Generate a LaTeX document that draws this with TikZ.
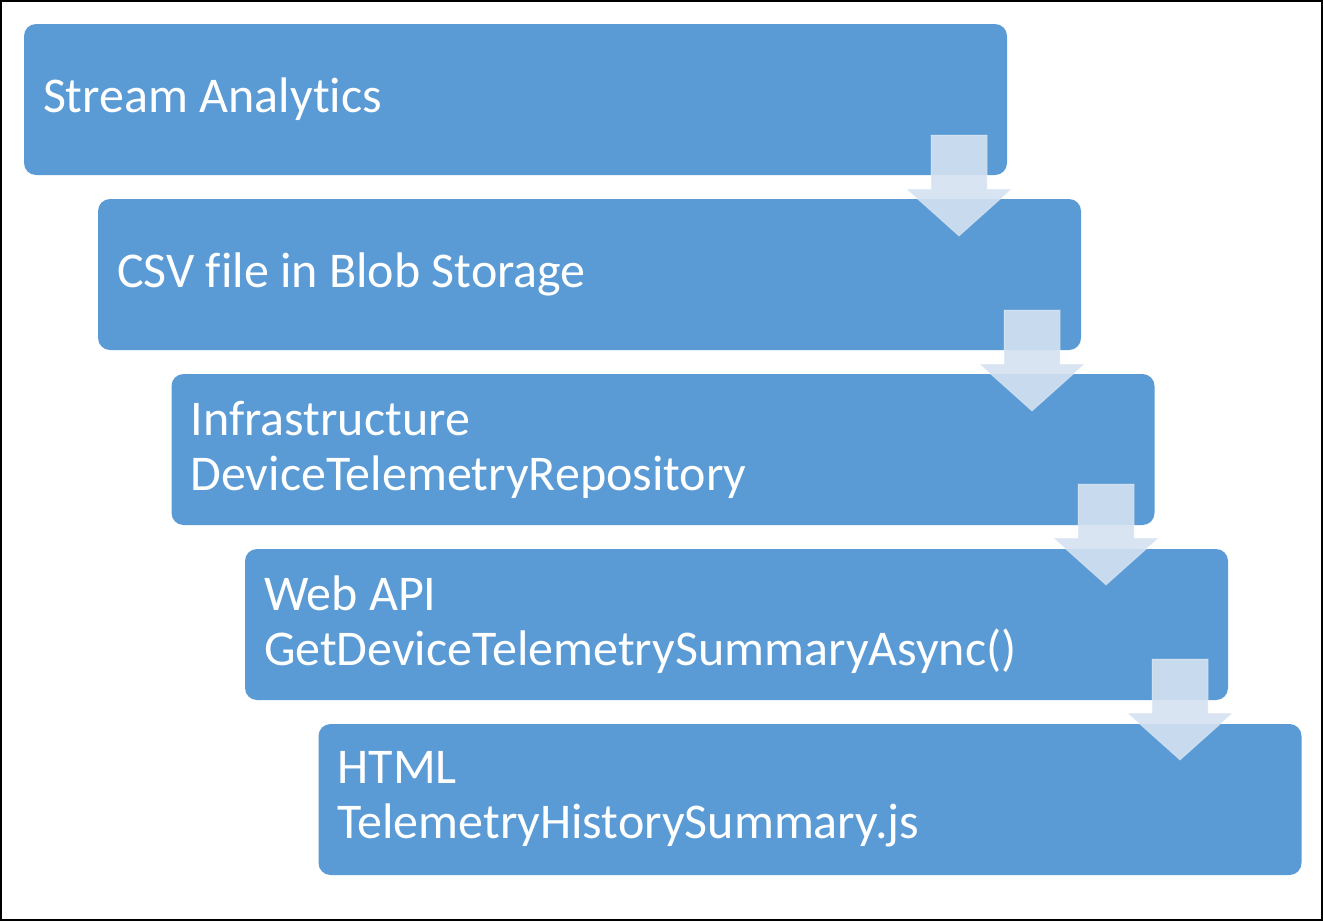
\documentclass[tikz,border=0pt]{standalone}
\usepackage{fontspec}
\setmainfont[Ligatures=NoCommon]{Carlito}
\usetikzlibrary{calc}
\definecolor{stepblue}{RGB}{91,155,213}
\definecolor{arrowtint}{RGB}{212,225,240}
\begin{document}
\begin{tikzpicture}[x=0.75pt,y=-0.75pt]
	\tikzstyle{stage} = [rectangle,rounded corners=9pt,fill=stepblue,text=white,
		minimum height=113.25pt,text width=708.75pt,inner xsep=14.25pt,align=flush left,
		font=\fontsize{37.5}{41.25}\selectfont]
	\tikzstyle{flow} = [fill=arrowtint,fill opacity=0.9,draw=white,draw opacity=0.3,line width=0.75pt,
		to path={let \p1=(\tikztostart), \p2=(\tikztotarget) in
			(\x1-21pt,\y1) -- (\x1+21pt,\y1) -- (\x1+21pt,\y2+35.25pt) -- (\x1+39.4pt,\y2+35.25pt)
			-- (\x2,\y2) -- (\x1-39.4pt,\y2+35.25pt) -- (\x1-21pt,\y2+35.25pt) -- cycle}]
	\useasboundingbox (0,0) rectangle (1323,921);
	\draw[line width=1.5pt] (1,1) rectangle (1322,920);
	
	\node[stage] (sa) at (515.5,99.5) {Stream Analytics};
	\node[stage] (csv) at (589.5,274.5) {CSV file in Blob Storage};
	\node[stage] (repo) at (663,449.5) {Infrastructure\\DeviceTelemetryRepository};
	\node[stage] (api) at (736.5,624.5) {Web API\\GetDeviceTelemetrySummaryAsync()};
	\node[stage] (html) at (810,799.5) {HTML\\TelemetryHistorySummary.js};
	
	\coordinate (a1) at (959,135);
	\coordinate (t1) at (959,236);
	\coordinate (a2) at (1032,310);
	\coordinate (t2) at (1032,411);
	\coordinate (a3) at (1106,484);
	\coordinate (t3) at (1106,585);
	\coordinate (a4) at (1180,659);
	\coordinate (t4) at (1180,760);
	
	\path (a1) edge[flow] (t1);
	\path (a2) edge[flow] (t2);
	\path (a3) edge[flow] (t3);
	\path (a4) edge[flow] (t4);
\end{tikzpicture}
\end{document}
